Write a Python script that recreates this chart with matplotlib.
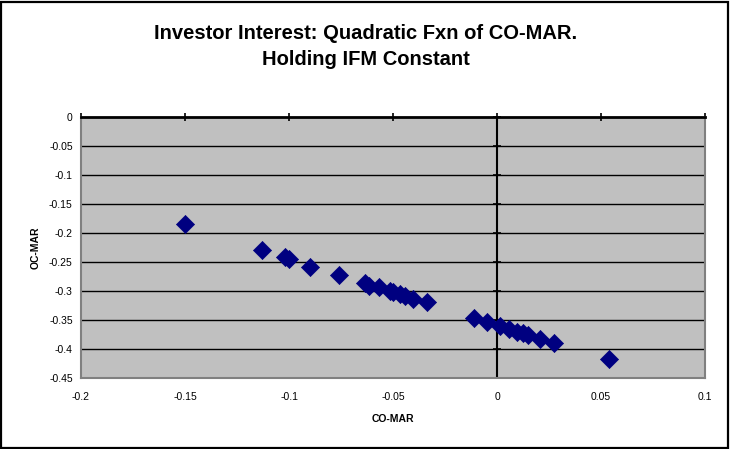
import matplotlib
matplotlib.use("Agg")
import matplotlib.pyplot as plt
from matplotlib.patches import Rectangle

plt.rcParams['font.family'] = ['Liberation Sans', 'DejaVu Sans']

co_mar = [-0.150, -0.113, -0.102, -0.100, -0.090, -0.076,
          -0.0635, -0.0614, -0.0567, -0.0514, -0.0499, -0.0466, -0.0442, -0.0405, -0.0338,
          -0.0109, -0.0049, 0.0014, 0.0059, 0.0095, 0.0126, 0.0147, 0.0207, 0.0273, 0.054]
oc_mar = [-0.185, -0.230, -0.242, -0.245, -0.258, -0.273,
          -0.286, -0.292, -0.294, -0.300, -0.302, -0.306, -0.309, -0.313, -0.319,
          -0.347, -0.353, -0.360, -0.366, -0.370, -0.372, -0.375, -0.382, -0.389, -0.418]

x_ticks = [-0.2, -0.15, -0.1, -0.05, 0, 0.05, 0.1]
x_tick_labels = ['-0.2', '-0.15', '-0.1', '-0.05', '0', '0.05', '0.1']
y_ticks = [0, -0.05, -0.1, -0.15, -0.2, -0.25, -0.3, -0.35, -0.4, -0.45]
y_tick_labels = ['0', '-0.05', '-0.1', '-0.15', '-0.2', '-0.25', '-0.3', '-0.35', '-0.4', '-0.45']

title = "Investor Interest: Quadratic Fxn of CO-MAR.\nHolding IFM Constant"

fig = plt.figure(figsize=(7.30, 4.49), dpi=100)
fig.patch.set_facecolor('white')
fig.patches.append(Rectangle((0.002, 0.003), 0.995, 0.993, transform=fig.transFigure,
                             fill=False, edgecolor='black', linewidth=1.6))

ax = fig.add_axes([0.111, 0.158, 0.855, 0.582])
ax.set_facecolor('#C0C0C0')
ax.set_xlim(-0.2, 0.1)
ax.set_ylim(-0.45, 0)

for y in y_ticks[1:-1]:
    ax.axhline(y, color='black', linewidth=1.0, zorder=1)
ax.axvline(0, color='black', linewidth=1.5, zorder=2)

# tick marks on the crossing axes
ax.plot([0] * len(y_ticks), y_ticks, linestyle='none', marker='_', markersize=6,
        color='black', markeredgewidth=1.2, clip_on=False, zorder=2)
ax.plot(x_ticks, [0] * len(x_ticks), linestyle='none', marker='|', markersize=6,
        color='black', markeredgewidth=1.2, clip_on=False, zorder=2)

ax.scatter(co_mar, oc_mar, marker='D', s=85, color='#000080', edgecolor='#000080',
           linewidths=0.5, zorder=3)

for side in ['left', 'bottom', 'right']:
    ax.spines[side].set_color('#808080')
    ax.spines[side].set_linewidth(1.5)
ax.spines['top'].set_color('black')
ax.spines['top'].set_linewidth(2)

ax.set_xticks(x_ticks)
ax.set_xticklabels(x_tick_labels, fontsize=7.5)
ax.set_yticks(y_ticks)
ax.set_yticklabels(y_tick_labels, fontsize=7.5)
ax.tick_params(axis='y', length=0, pad=6)
ax.tick_params(axis='x', length=0, pad=10)

ax.set_xlabel('CO-MAR', fontsize=7.5, fontweight='bold', labelpad=9)
ax.set_ylabel('OC-MAR', fontsize=7.5, fontweight='bold', labelpad=6)

fig.text(0.501, 0.896, title, ha='center', va='center', fontsize=14.5,
         fontweight='bold', linespacing=1.45)

fig.savefig('out.png', dpi=100)
